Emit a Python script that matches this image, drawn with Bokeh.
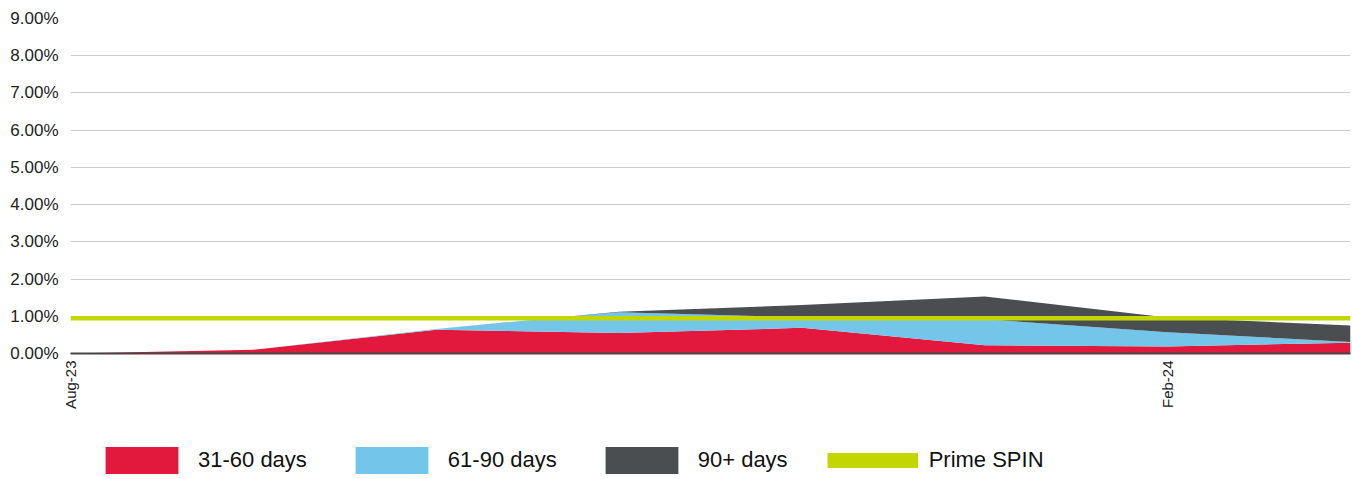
import math
from bokeh.plotting import figure
from bokeh.layouts import column
from bokeh.models import ColumnDataSource, Range1d, FixedTicker, PrintfTickFormatter, Legend, LegendItem
from bokeh.embed import file_html
from bokeh.resources import INLINE

months = ["Aug-23", "Sep-23", "Oct-23", "Nov-23", "Dec-23", "Jan-24", "Feb-24", "Mar-24"]
d31_60 = [0.00, 0.10, 0.64, 0.55, 0.69, 0.22, 0.19, 0.29]
d61_90 = [0.00, 0.00, 0.02, 0.56, 0.28, 0.70, 0.38, 0.02]
d90_plus = [0.00, 0.00, 0.00, 0.01, 0.33, 0.61, 0.40, 0.44]
prime_spin = [0.95, 0.95, 0.95, 0.95, 0.95, 0.95, 0.95, 0.95]
tick_months = ["Aug-23", "Feb-24"]
y_ticks = [0, 1, 2, 3, 4, 5, 6, 7, 8, 9]
series_labels = ["31-60 days", "61-90 days", "90+ days", "Prime SPIN"]

RED = "#E2183D"
BLUE = "#73C6E9"
DARK = "#4B4E51"
GREEN = "#C4D600"
FONT = "Liberation Sans"

x = list(range(len(months)))
src = ColumnDataSource(dict(x=x, a=d31_60, b=d61_90, c=d90_plus, spin=prime_spin))

p = figure(width=1352, height=420, x_range=Range1d(0, len(months) - 1), y_range=Range1d(0, 9),
           output_backend="svg", toolbar_location=None,
           min_border_left=70, min_border_right=2, min_border_top=18, min_border_bottom=67)

areas = p.varea_stack(stackers=["a", "b", "c"], x="x", color=[RED, BLUE, DARK], source=src)
p.line("x", "spin", source=src, color=GREEN, line_width=4.5)

p.outline_line_color = None
p.background_fill_color = "white"
p.xgrid.grid_line_color = None
p.ygrid.grid_line_color = "#cccccc"
p.ygrid.grid_line_width = 1
p.ygrid.ticker = FixedTicker(ticks=y_ticks)

p.yaxis.ticker = FixedTicker(ticks=y_ticks)
p.yaxis.formatter = PrintfTickFormatter(format="%.2f%%")
p.yaxis.axis_line_color = None
p.yaxis.major_tick_line_color = None
p.yaxis.minor_tick_line_color = None
p.yaxis.major_tick_out = 0
p.yaxis.major_tick_in = 0
p.yaxis.minor_tick_out = 0
p.yaxis.major_label_standoff = 12
p.yaxis.major_label_text_font = FONT
p.yaxis.major_label_text_font_size = "17px"
p.yaxis.major_label_text_color = "#222222"

tick_pos = [months.index(m) for m in tick_months]
p.xaxis.ticker = FixedTicker(ticks=tick_pos)
p.xaxis.major_label_overrides = {i: m for i, m in zip(tick_pos, tick_months)}
p.xaxis.major_label_orientation = math.pi / 2
p.xaxis.axis_line_color = "#444444"
p.xaxis.axis_line_width = 2
p.xaxis.major_tick_line_color = None
p.xaxis.minor_tick_line_color = None
p.xaxis.major_tick_out = 0
p.xaxis.major_tick_in = 0
p.xaxis.minor_tick_out = 0
p.xaxis.major_label_standoff = 7
p.xaxis.major_label_text_font = FONT
p.xaxis.major_label_text_font_size = "15px"
p.xaxis.major_label_text_color = "#222222"

# legend strip below the chart (hidden copies of the series provide the swatches)
lf = figure(width=1352, height=59, x_range=Range1d(0, 1), y_range=Range1d(0, 1),
            output_backend="svg", toolbar_location=None, x_axis_type=None, y_axis_type=None,
            min_border=0, min_border_left=0, min_border_right=0, min_border_top=0, min_border_bottom=0)
lf.outline_line_color = None
lf.xgrid.visible = False
lf.ygrid.visible = False
sw = list(lf.varea_stack(stackers=["a", "b", "c"], x="x", color=[RED, BLUE, DARK], source=src))
sw.append(lf.line("x", "spin", source=src, color=GREEN, line_width=15))
for r in sw:
    r.visible = False

legend = Legend(items=[LegendItem(label=lab, renderers=[r]) for lab, r in zip(series_labels, sw)],
                orientation="horizontal", location=(26, 2))
legend.glyph_width = 91
legend.glyph_height = 34
legend.label_standoff = 11
legend.spacing = 39
legend.padding = 0
legend.margin = 0
legend.border_line_color = None
legend.background_fill_alpha = 0
legend.inactive_fill_alpha = 0
legend.label_text_font = FONT
legend.label_text_font_size = "22px"
legend.label_text_color = "#111111"
lf.add_layout(legend, "center")

layout = column(p, lf, spacing=0)
open("out.html", "w").write(file_html(layout, INLINE))
